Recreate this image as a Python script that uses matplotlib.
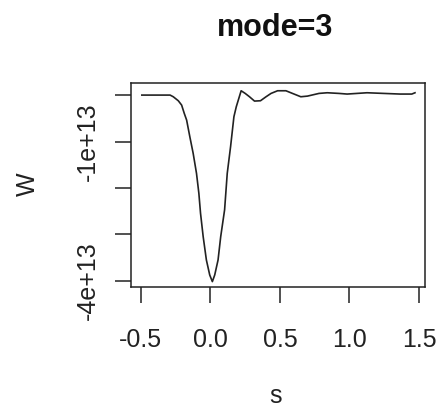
import matplotlib
matplotlib.use("Agg")
import matplotlib.pyplot as plt

plt.rcParams["font.family"] = ["Liberation Sans", "DejaVu Sans"]
plt.rcParams["axes.unicode_minus"] = False

# curve (W in units of 1e13)
s = [-0.493, -0.29, -0.267, -0.231, -0.207, -0.188, -0.171, -0.148, -0.124,
     -0.1, -0.083, -0.071, -0.052, -0.029, -0.005, 0.014, 0.031, 0.055, 0.074,
     0.102, 0.121, 0.145, 0.169, 0.186, 0.221, 0.25, 0.281, 0.317, 0.36, 0.4,
     0.436, 0.483, 0.543, 0.59, 0.65, 0.698, 0.781, 0.84, 0.924, 0.983, 1.126,
     1.245, 1.364, 1.448, 1.471]
w = [0.0, 0.0, -0.036, -0.122, -0.215, -0.394, -0.538, -0.896, -1.254,
     -1.685, -2.115, -2.545, -3.047, -3.548, -3.871, -4.014, -3.871, -3.548,
     -3.047, -2.47, -1.685, -1.11, -0.466, -0.251, 0.093, 0.036, -0.036,
     -0.129, -0.122, -0.036, 0.036, 0.093, 0.093, 0.036, -0.036, -0.022, 0.036,
     0.05, 0.036, 0.022, 0.05, 0.036, 0.022, 0.022, 0.05]
w = [v * 1e13 for v in w]

xticks = [-0.5, 0.0, 0.5, 1.0, 1.5]
xlabels = ["-0.5", "0.0", "0.5", "1.0", "1.5"]
yticks = [0, -1e13, -2e13, -3e13, -4e13]
ylabels = ["", "-1e+13", "", "", "-4e+13"]

W, H = 438, 409
fig = plt.figure(figsize=(W / 100, H / 100), dpi=100)
ax = fig.add_axes([131 / W, 1 - 287 / H, (425 - 131) / W, (287 - 83) / H])

ax.plot(s, w, color="#222222", lw=1.2)
ax.set_xlim(-0.571, 1.543)
ax.set_ylim(-4.13e13, 0.26e13)

for sp in ax.spines.values():
    sp.set_linewidth(1.1)
    sp.set_color("#222222")

ax.set_xticks(xticks)
ax.set_xticklabels(xlabels)
ax.set_yticks(yticks)
ax.set_yticklabels(ylabels, rotation=90, va="center")
ax.tick_params(length=11.5, width=1.1, color="#222222", labelsize=18,
               labelcolor="#222222")
ax.tick_params(axis="x", pad=18)
ax.tick_params(axis="y", pad=11)

fig.text(275 / W, 1 - 36 / H, "mode=3", ha="center", va="baseline",
         fontsize=22, fontweight="bold", color="#111111")
fig.text(276 / W, 1 - 396 / H, "s", ha="center", va="center", fontsize=18,
         color="#222222")
fig.text(28 / W, 1 - 184 / H, "W", ha="center", va="center", rotation=90,
         fontsize=18, color="#222222")

fig.savefig("out.png", dpi=100)
